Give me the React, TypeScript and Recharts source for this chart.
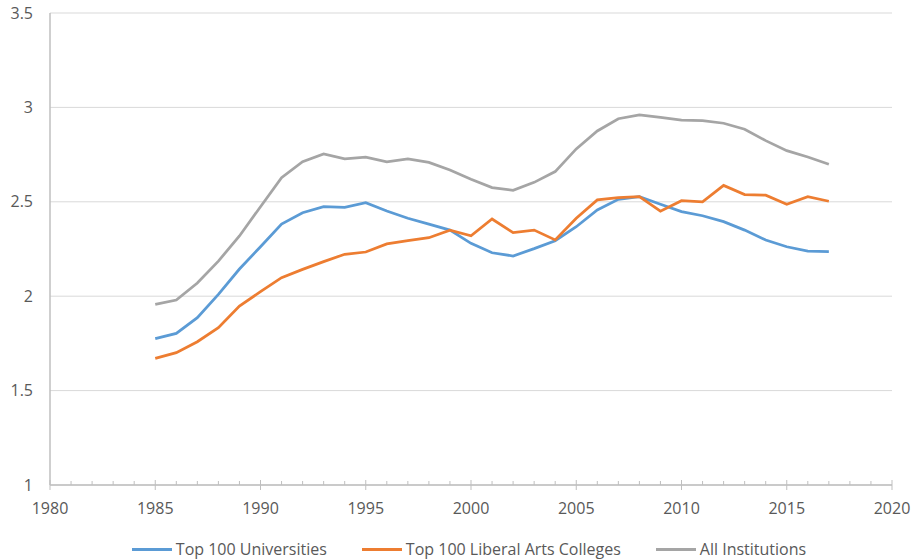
import React from "react";
import {
  LineChart,
  Line,
  XAxis,
  YAxis,
  CartesianGrid,
  Legend,
} from "recharts";

const years = [
  1985, 1986, 1987, 1988, 1989, 1990, 1991, 1992, 1993, 1994, 1995, 1996,
  1997, 1998, 1999, 2000, 2001, 2002, 2003, 2004, 2005, 2006, 2007, 2008,
  2009, 2010, 2011, 2012, 2013, 2014, 2015, 2016, 2017,
];

const universities = [
  1.775, 1.803, 1.886, 2.01, 2.144, 2.262, 2.382, 2.442, 2.474, 2.471, 2.495,
  2.451, 2.413, 2.382, 2.35, 2.28, 2.23, 2.213, 2.252, 2.294, 2.368, 2.457,
  2.513, 2.527, 2.487, 2.448, 2.426, 2.395, 2.35, 2.298, 2.262, 2.239, 2.236,
];

const liberalArts = [
  1.671, 1.701, 1.759, 1.833, 1.948, 2.024, 2.098, 2.142, 2.183, 2.222, 2.234,
  2.277, 2.294, 2.31, 2.35, 2.32, 2.409, 2.337, 2.35, 2.298, 2.413, 2.51,
  2.522, 2.527, 2.45, 2.506, 2.5, 2.587, 2.538, 2.535, 2.487, 2.527, 2.503,
];

const allInstitutions = [
  1.957, 1.98, 2.07, 2.186, 2.319, 2.474, 2.628, 2.712, 2.753, 2.727, 2.736,
  2.712, 2.727, 2.709, 2.668, 2.619, 2.575, 2.561, 2.603, 2.66, 2.78, 2.875,
  2.94, 2.96, 2.947, 2.933, 2.93, 2.916, 2.884, 2.824, 2.771, 2.737, 2.699,
];

const seriesNames = ["Top 100 Universities", "Top 100 Liberal Arts Colleges", "All Institutions"];
const COLORS = ["#5B9BD5", "#ED7D31", "#A5A5A5"];

const yTicks = [1, 1.5, 2, 2.5, 3, 3.5];
const xTicks = Array.from({ length: 41 }, (_, i) => 1980 + i);

const data = years.map((year, i) => ({
  year,
  uni: universities[i],
  lac: liberalArts[i],
  all: allInstitutions[i],
}));

const FONT = "'Open Sans', sans-serif";
const TICK_SIZE = 5;
const TICK_MARGIN = 12;

function YearTick(props: any) {
  const { x, y, payload } = props;
  const axisY = y - TICK_SIZE - TICK_MARGIN;
  const major = payload.value % 5 === 0;
  return (
    <g>
      <line
        x1={x}
        x2={x}
        y1={major ? axisY - 5 : axisY - 4}
        y2={major ? axisY + 5 : axisY}
        stroke="#bfbfbf"
        strokeWidth={1}
      />
      {major && (
        <text
          x={x}
          y={axisY + 29}
          textAnchor="middle"
          fill="#595959"
          fontSize={16}
          fontFamily={FONT}
        >
          {payload.value}
        </text>
      )}
    </g>
  );
}

function LegendContent() {
  return (
    <div
      style={{
        display: "flex",
        justifyContent: "center",
        gap: 35,
        fontFamily: FONT,
        fontSize: 16,
        color: "#595959",
        lineHeight: "22px",
        marginLeft: 46,
      }}
    >
      {seriesNames.map((name, i) => (
        <div key={name} style={{ display: "flex", alignItems: "center" }}>
          <span
            style={{
              display: "inline-block",
              width: 40,
              height: 3,
              background: COLORS[i],
              marginRight: 4,
            }}
          />
          <span>{name}</span>
        </div>
      ))}
    </div>
  );
}

export default function App() {
  return (
    <div style={{ position: "absolute", left: 0, top: 0, background: "#fff" }}>
      <LineChart
        width={915}
        height={560}
        data={data}
        margin={{ top: 13, right: 23, left: 0, bottom: 0 }}
      >
        <CartesianGrid vertical={false} stroke="#d9d9d9" strokeWidth={1} />
        <XAxis
          dataKey="year"
          type="number"
          domain={[1980, 2020]}
          ticks={xTicks}
          interval={0}
          tick={<YearTick />}
          tickLine={false}
          tickSize={TICK_SIZE}
          tickMargin={TICK_MARGIN}
          axisLine={{ stroke: "#bfbfbf", strokeWidth: 1.5 }}
          height={53}
        />
        <YAxis
          type="number"
          domain={[1, 3.5]}
          ticks={yTicks}
          interval={0}
          width={50}
          tickLine={false}
          tickSize={0}
          tickMargin={17}
          axisLine={{ stroke: "#bfbfbf", strokeWidth: 1.5 }}
          tick={{ fill: "#595959", fontSize: 16, fontFamily: FONT }}
        />
        <Legend content={<LegendContent />} verticalAlign="bottom" height={22} />
        <Line
          dataKey="uni"
          name={seriesNames[0]}
          stroke={COLORS[0]}
          strokeWidth={2.75}
          dot={false}
          isAnimationActive={false}
        />
        <Line
          dataKey="lac"
          name={seriesNames[1]}
          stroke={COLORS[1]}
          strokeWidth={2.75}
          dot={false}
          isAnimationActive={false}
        />
        <Line
          dataKey="all"
          name={seriesNames[2]}
          stroke={COLORS[2]}
          strokeWidth={2.75}
          dot={false}
          isAnimationActive={false}
        />
      </LineChart>
    </div>
  );
}
